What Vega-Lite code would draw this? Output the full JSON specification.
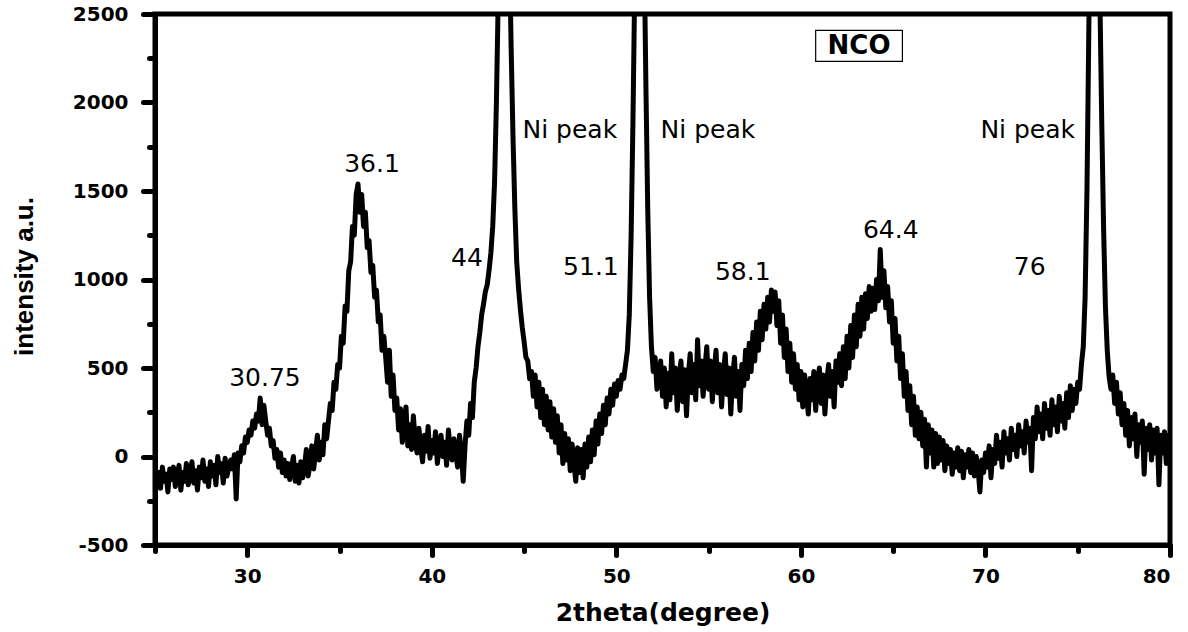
{
"$schema":"https://vega.github.io/schema/vega-lite/v6.json",
"width":1015,"height":531,
"autosize":"none",
"padding":{"left":155,"top":14,"right":18,"bottom":87},
"background":"white",
"config":{"view":{"stroke":"black","strokeWidth":5}},
"datasets":{
"xrd":[
{"t":25.0,"i":-40},{"t":25.1,"i":-150},{"t":25.2,"i":-90},{"t":25.3,"i":-180},{"t":25.4,"i":-60},{"t":25.5,"i":-140},{"t":25.6,"i":-100},{"t":25.7,"i":-200},{"t":25.8,"i":-70},{"t":25.9,"i":-130},
{"t":26.0,"i":-60},{"t":26.1,"i":-170},{"t":26.2,"i":-110},{"t":26.3,"i":-50},{"t":26.4,"i":-190},{"t":26.5,"i":-90},{"t":26.6,"i":-140},{"t":26.7,"i":-40},{"t":26.8,"i":-160},{"t":26.9,"i":-100},
{"t":27.0,"i":-30},{"t":27.1,"i":-150},{"t":27.2,"i":-80},{"t":27.3,"i":-190},{"t":27.4,"i":-60},{"t":27.5,"i":-120},{"t":27.6,"i":-20},{"t":27.7,"i":-140},{"t":27.8,"i":-70},{"t":27.9,"i":-170},
{"t":28.0,"i":-30},{"t":28.1,"i":-110},{"t":28.2,"i":-50},{"t":28.3,"i":-160},{"t":28.4,"i":0},{"t":28.5,"i":-90},{"t":28.6,"i":-40},{"t":28.7,"i":-150},{"t":28.8,"i":-10},{"t":28.9,"i":-110},
{"t":29.0,"i":-60},{"t":29.1,"i":-20},{"t":29.2,"i":-70},{"t":29.3,"i":10},{"t":29.4,"i":-240},{"t":29.5,"i":20},{"t":29.6,"i":-30},{"t":29.7,"i":60},{"t":29.8,"i":20},{"t":29.9,"i":110},
{"t":30.0,"i":80},{"t":30.1,"i":150},{"t":30.2,"i":120},{"t":30.3,"i":200},{"t":30.4,"i":160},{"t":30.5,"i":240},{"t":30.6,"i":200},{"t":30.7,"i":330},{"t":30.8,"i":180},{"t":30.9,"i":290},
{"t":31.0,"i":200},{"t":31.1,"i":120},{"t":31.2,"i":160},{"t":31.3,"i":60},{"t":31.4,"i":90},{"t":31.5,"i":-10},{"t":31.6,"i":40},{"t":31.7,"i":-60},{"t":31.8,"i":20},{"t":31.9,"i":-90},
{"t":32.0,"i":-20},{"t":32.1,"i":-110},{"t":32.2,"i":-40},{"t":32.3,"i":-130},{"t":32.4,"i":-60},{"t":32.5,"i":0},{"t":32.6,"i":-140},{"t":32.7,"i":-50},{"t":32.8,"i":-150},{"t":32.9,"i":-30},
{"t":33.0,"i":-120},{"t":33.1,"i":-60},{"t":33.2,"i":40},{"t":33.3,"i":-110},{"t":33.4,"i":-40},{"t":33.5,"i":60},{"t":33.6,"i":-70},{"t":33.7,"i":30},{"t":33.8,"i":120},{"t":33.9,"i":-20},
{"t":34.0,"i":80},{"t":34.1,"i":10},{"t":34.2,"i":180},{"t":34.3,"i":100},{"t":34.4,"i":200},{"t":34.5,"i":300},{"t":34.6,"i":260},{"t":34.7,"i":420},{"t":34.8,"i":380},{"t":34.9,"i":520},
{"t":35.0,"i":500},{"t":35.1,"i":680},{"t":35.2,"i":640},{"t":35.3,"i":850},{"t":35.4,"i":820},{"t":35.5,"i":1050},{"t":35.6,"i":1100},{"t":35.7,"i":1300},{"t":35.8,"i":1250},{"t":35.9,"i":1480},
{"t":36.0,"i":1540},{"t":36.1,"i":1380},{"t":36.2,"i":1480},{"t":36.3,"i":1300},{"t":36.4,"i":1380},{"t":36.5,"i":1180},{"t":36.6,"i":1220},{"t":36.7,"i":1040},{"t":36.8,"i":1080},{"t":36.9,"i":900},
{"t":37.0,"i":940},{"t":37.1,"i":760},{"t":37.2,"i":800},{"t":37.3,"i":600},{"t":37.4,"i":680},{"t":37.5,"i":560},{"t":37.6,"i":420},{"t":37.7,"i":600},{"t":37.8,"i":340},{"t":37.9,"i":460},
{"t":38.0,"i":260},{"t":38.1,"i":330},{"t":38.2,"i":150},{"t":38.3,"i":270},{"t":38.4,"i":80},{"t":38.5,"i":200},{"t":38.6,"i":280},{"t":38.7,"i":60},{"t":38.8,"i":180},{"t":38.9,"i":40},
{"t":39.0,"i":230},{"t":39.1,"i":90},{"t":39.2,"i":20},{"t":39.3,"i":160},{"t":39.4,"i":50},{"t":39.5,"i":-30},{"t":39.6,"i":120},{"t":39.7,"i":30},{"t":39.8,"i":170},{"t":39.9,"i":-10},
{"t":40.0,"i":90},{"t":40.1,"i":20},{"t":40.2,"i":140},{"t":40.3,"i":-40},{"t":40.4,"i":60},{"t":40.5,"i":120},{"t":40.6,"i":0},{"t":40.7,"i":80},{"t":40.8,"i":-50},{"t":40.9,"i":150},
{"t":41.0,"i":40},{"t":41.1,"i":-20},{"t":41.2,"i":100},{"t":41.3,"i":10},{"t":41.4,"i":-60},{"t":41.5,"i":120},{"t":41.6,"i":30},{"t":41.7,"i":-140},{"t":41.8,"i":60},{"t":41.9,"i":200},
{"t":42.0,"i":120},{"t":42.1,"i":300},{"t":42.2,"i":220},{"t":42.3,"i":420},{"t":42.4,"i":500},{"t":42.5,"i":620},{"t":42.6,"i":700},{"t":42.7,"i":800},{"t":42.8,"i":860},{"t":42.9,"i":930},
{"t":43.0,"i":970},{"t":43.1,"i":1050},{"t":43.2,"i":1150},{"t":43.3,"i":1300},{"t":43.4,"i":1550},{"t":43.5,"i":2000},{"t":43.6,"i":2600},{"t":43.7,"i":3300},{"t":43.8,"i":3800},{"t":43.9,"i":4000},
{"t":44.0,"i":3900},{"t":44.1,"i":3500},{"t":44.2,"i":2900},{"t":44.3,"i":2300},{"t":44.4,"i":1800},{"t":44.5,"i":1400},{"t":44.6,"i":1100},{"t":44.7,"i":950},{"t":44.8,"i":830},{"t":44.9,"i":730},
{"t":45.0,"i":650},{"t":45.1,"i":560},{"t":45.2,"i":540},{"t":45.3,"i":440},{"t":45.4,"i":480},{"t":45.5,"i":340},{"t":45.6,"i":460},{"t":45.7,"i":280},{"t":45.8,"i":420},{"t":45.9,"i":220},
{"t":46.0,"i":380},{"t":46.1,"i":180},{"t":46.2,"i":340},{"t":46.3,"i":150},{"t":46.4,"i":310},{"t":46.5,"i":110},{"t":46.6,"i":270},{"t":46.7,"i":80},{"t":46.8,"i":230},{"t":46.9,"i":20},
{"t":47.0,"i":180},{"t":47.1,"i":-40},{"t":47.2,"i":130},{"t":47.3,"i":-20},{"t":47.4,"i":100},{"t":47.5,"i":-80},{"t":47.6,"i":70},{"t":47.7,"i":-40},{"t":47.8,"i":-140},{"t":47.9,"i":50},
{"t":48.0,"i":-90},{"t":48.1,"i":40},{"t":48.2,"i":-120},{"t":48.3,"i":70},{"t":48.4,"i":-60},{"t":48.5,"i":110},{"t":48.6,"i":-30},{"t":48.7,"i":150},{"t":48.8,"i":10},{"t":48.9,"i":200},
{"t":49.0,"i":70},{"t":49.1,"i":240},{"t":49.2,"i":130},{"t":49.3,"i":290},{"t":49.4,"i":180},{"t":49.5,"i":330},{"t":49.6,"i":240},{"t":49.7,"i":380},{"t":49.8,"i":290},{"t":49.9,"i":410},
{"t":50.0,"i":340},{"t":50.1,"i":430},{"t":50.2,"i":380},{"t":50.3,"i":460},{"t":50.4,"i":440},{"t":50.5,"i":520},{"t":50.6,"i":600},{"t":50.7,"i":800},{"t":50.8,"i":1250},{"t":50.9,"i":1900},
{"t":51.0,"i":2700},{"t":51.1,"i":3500},{"t":51.2,"i":4000},{"t":51.3,"i":4000},{"t":51.4,"i":3600},{"t":51.5,"i":2900},{"t":51.6,"i":2100},{"t":51.7,"i":1400},{"t":51.8,"i":900},{"t":51.9,"i":620},
{"t":52.0,"i":480},{"t":52.1,"i":560},{"t":52.2,"i":380},{"t":52.3,"i":420},{"t":52.4,"i":540},{"t":52.5,"i":340},{"t":52.6,"i":500},{"t":52.7,"i":280},{"t":52.8,"i":470},{"t":52.9,"i":320},
{"t":53.0,"i":580},{"t":53.1,"i":360},{"t":53.2,"i":500},{"t":53.3,"i":260},{"t":53.4,"i":440},{"t":53.5,"i":540},{"t":53.6,"i":310},{"t":53.7,"i":490},{"t":53.8,"i":230},{"t":53.9,"i":460},
{"t":54.0,"i":580},{"t":54.1,"i":360},{"t":54.2,"i":520},{"t":54.3,"i":320},{"t":54.4,"i":660},{"t":54.5,"i":400},{"t":54.6,"i":540},{"t":54.7,"i":340},{"t":54.8,"i":500},{"t":54.9,"i":620},
{"t":55.0,"i":380},{"t":55.1,"i":540},{"t":55.2,"i":310},{"t":55.3,"i":480},{"t":55.4,"i":600},{"t":55.5,"i":360},{"t":55.6,"i":520},{"t":55.7,"i":280},{"t":55.8,"i":470},{"t":55.9,"i":580},
{"t":56.0,"i":350},{"t":56.1,"i":500},{"t":56.2,"i":240},{"t":56.3,"i":450},{"t":56.4,"i":560},{"t":56.5,"i":340},{"t":56.6,"i":480},{"t":56.7,"i":260},{"t":56.8,"i":520},{"t":56.9,"i":400},
{"t":57.0,"i":600},{"t":57.1,"i":440},{"t":57.2,"i":640},{"t":57.3,"i":480},{"t":57.4,"i":700},{"t":57.5,"i":540},{"t":57.6,"i":760},{"t":57.7,"i":600},{"t":57.8,"i":820},{"t":57.9,"i":660},
{"t":58.0,"i":860},{"t":58.1,"i":720},{"t":58.2,"i":900},{"t":58.3,"i":760},{"t":58.4,"i":940},{"t":58.5,"i":820},{"t":58.6,"i":930},{"t":58.7,"i":740},{"t":58.8,"i":880},{"t":58.9,"i":640},
{"t":59.0,"i":800},{"t":59.1,"i":560},{"t":59.2,"i":720},{"t":59.3,"i":480},{"t":59.4,"i":640},{"t":59.5,"i":420},{"t":59.6,"i":580},{"t":59.7,"i":380},{"t":59.8,"i":520},{"t":59.9,"i":320},
{"t":60.0,"i":480},{"t":60.1,"i":280},{"t":60.2,"i":460},{"t":60.3,"i":360},{"t":60.4,"i":240},{"t":60.5,"i":440},{"t":60.6,"i":320},{"t":60.7,"i":480},{"t":60.8,"i":260},{"t":60.9,"i":420},
{"t":61.0,"i":500},{"t":61.1,"i":300},{"t":61.2,"i":460},{"t":61.3,"i":240},{"t":61.4,"i":420},{"t":61.5,"i":520},{"t":61.6,"i":340},{"t":61.7,"i":480},{"t":61.8,"i":280},{"t":61.9,"i":540},
{"t":62.0,"i":420},{"t":62.1,"i":580},{"t":62.2,"i":400},{"t":62.3,"i":620},{"t":62.4,"i":440},{"t":62.5,"i":680},{"t":62.6,"i":500},{"t":62.7,"i":740},{"t":62.8,"i":560},{"t":62.9,"i":800},
{"t":63.0,"i":620},{"t":63.1,"i":860},{"t":63.2,"i":680},{"t":63.3,"i":900},{"t":63.4,"i":720},{"t":63.5,"i":920},{"t":63.6,"i":780},{"t":63.7,"i":960},{"t":63.8,"i":820},{"t":63.9,"i":950},
{"t":64.0,"i":830},{"t":64.1,"i":1000},{"t":64.2,"i":880},{"t":64.3,"i":1170},{"t":64.4,"i":900},{"t":64.5,"i":1050},{"t":64.6,"i":840},{"t":64.7,"i":960},{"t":64.8,"i":760},{"t":64.9,"i":880},
{"t":65.0,"i":640},{"t":65.1,"i":780},{"t":65.2,"i":540},{"t":65.3,"i":680},{"t":65.4,"i":440},{"t":65.5,"i":580},{"t":65.6,"i":340},{"t":65.7,"i":480},{"t":65.8,"i":260},{"t":65.9,"i":400},
{"t":66.0,"i":180},{"t":66.1,"i":340},{"t":66.2,"i":120},{"t":66.3,"i":280},{"t":66.4,"i":100},{"t":66.5,"i":250},{"t":66.6,"i":60},{"t":66.7,"i":210},{"t":66.8,"i":-60},{"t":66.9,"i":180},
{"t":67.0,"i":20},{"t":67.1,"i":150},{"t":67.2,"i":-60},{"t":67.3,"i":130},{"t":67.4,"i":-40},{"t":67.5,"i":110},{"t":67.6,"i":-20},{"t":67.7,"i":90},{"t":67.8,"i":-80},{"t":67.9,"i":60},
{"t":68.0,"i":-40},{"t":68.1,"i":40},{"t":68.2,"i":-100},{"t":68.3,"i":20},{"t":68.4,"i":-60},{"t":68.5,"i":50},{"t":68.6,"i":-80},{"t":68.7,"i":30},{"t":68.8,"i":-120},{"t":68.9,"i":10},
{"t":69.0,"i":-60},{"t":69.1,"i":40},{"t":69.2,"i":-90},{"t":69.3,"i":20},{"t":69.4,"i":-110},{"t":69.5,"i":0},{"t":69.6,"i":-70},{"t":69.7,"i":-200},{"t":69.8,"i":-20},{"t":69.9,"i":-90},
{"t":70.0,"i":20},{"t":70.1,"i":-60},{"t":70.2,"i":60},{"t":70.3,"i":-120},{"t":70.4,"i":40},{"t":70.5,"i":-40},{"t":70.6,"i":120},{"t":70.7,"i":-10},{"t":70.8,"i":80},{"t":70.9,"i":-60},
{"t":71.0,"i":140},{"t":71.1,"i":20},{"t":71.2,"i":100},{"t":71.3,"i":-20},{"t":71.4,"i":160},{"t":71.5,"i":40},{"t":71.6,"i":120},{"t":71.7,"i":0},{"t":71.8,"i":180},{"t":71.9,"i":60},
{"t":72.0,"i":140},{"t":72.1,"i":20},{"t":72.2,"i":200},{"t":72.3,"i":80},{"t":72.4,"i":160},{"t":72.5,"i":-80},{"t":72.6,"i":220},{"t":72.7,"i":100},{"t":72.8,"i":280},{"t":72.9,"i":140},
{"t":73.0,"i":240},{"t":73.1,"i":100},{"t":73.2,"i":300},{"t":73.3,"i":160},{"t":73.4,"i":260},{"t":73.5,"i":120},{"t":73.6,"i":320},{"t":73.7,"i":180},{"t":73.8,"i":280},{"t":73.9,"i":140},
{"t":74.0,"i":340},{"t":74.1,"i":200},{"t":74.2,"i":300},{"t":74.3,"i":160},{"t":74.4,"i":360},{"t":74.5,"i":220},{"t":74.6,"i":400},{"t":74.7,"i":260},{"t":74.8,"i":380},{"t":74.9,"i":300},
{"t":75.0,"i":420},{"t":75.1,"i":380},{"t":75.2,"i":520},{"t":75.3,"i":620},{"t":75.4,"i":900},{"t":75.5,"i":1500},{"t":75.6,"i":2400},{"t":75.7,"i":3300},{"t":75.8,"i":4000},{"t":75.9,"i":4100},
{"t":76.0,"i":3800},{"t":76.1,"i":3200},{"t":76.2,"i":2600},{"t":76.3,"i":1900},{"t":76.4,"i":1300},{"t":76.5,"i":850},{"t":76.6,"i":600},{"t":76.7,"i":450},{"t":76.8,"i":380},{"t":76.9,"i":460},
{"t":77.0,"i":300},{"t":77.1,"i":420},{"t":77.2,"i":240},{"t":77.3,"i":360},{"t":77.4,"i":180},{"t":77.5,"i":300},{"t":77.6,"i":120},{"t":77.7,"i":260},{"t":77.8,"i":60},{"t":77.9,"i":220},
{"t":78.0,"i":100},{"t":78.1,"i":240},{"t":78.2,"i":0},{"t":78.3,"i":180},{"t":78.4,"i":80},{"t":78.5,"i":200},{"t":78.6,"i":-100},{"t":78.7,"i":160},{"t":78.8,"i":40},{"t":78.9,"i":180},
{"t":79.0,"i":-20},{"t":79.1,"i":150},{"t":79.2,"i":20},{"t":79.3,"i":160},{"t":79.4,"i":-160},{"t":79.5,"i":120},{"t":79.6,"i":20},{"t":79.7,"i":140},{"t":79.8,"i":-40},{"t":79.9,"i":120},
{"t":80.0,"i":60}
],
"labels":[
{"t":30.96,"i":446,"label":"30.75"},{"t":36.76,"i":1650,"label":"36.1"},{"t":41.9,"i":1124,"label":"44"},{"t":47.48,"i":1842,"label":"Ni peak"},{"t":48.62,"i":1073,"label":"51.1"},{"t":54.96,"i":1842,"label":"Ni peak"},{"t":56.85,"i":1040,"label":"58.1"},{"t":64.87,"i":1282,"label":"64.4"},{"t":72.4,"i":1073,"label":"76"},{"t":72.29,"i":1842,"label":"Ni peak"}
],
"box":[{"t":60.8,"t2":65.5,"i":2407,"i2":2232}],
"tag":[{"t":63.15,"i":2322,"label":"NCO"}]
},
"layer":[
{"data":{"name":"xrd"},
 "mark":{"type":"line","color":"black","strokeWidth":5,"clip":true,"strokeJoin":"round"},
 "encoding":{
  "x":{"field":"t","type":"quantitative","scale":{"domain":[25,80],"nice":false,"zero":false},
   "axis":{"title":"2theta(degree)","values":[25,30,35,40,45,50,55,60,65,70,75,80],
    "labelExpr":"datum.value % 10 === 0 ? '' + datum.value : ''",
    "grid":false,"domainColor":"black","domainWidth":5,"tickColor":"black","tickWidth":5,"tickCap":"round",
    "tickSize":{"condition":{"test":"datum.value % 10 === 0","value":10},"value":6},
    "labelFont":"DejaVu Sans","labelFontWeight":"bold","labelFontSize":20,"labelColor":"black","labelPadding":11,
    "titleFont":"DejaVu Sans","titleFontWeight":"bold","titleFontSize":25,"titleColor":"black",
    "titleX":507.5,"titleY":67,"titleBaseline":"middle","titleAlign":"center"}},
  "y":{"field":"i","type":"quantitative","scale":{"domain":[-500,2500],"nice":false,"zero":false},
   "axis":{"title":"intensity a.u.","values":[-500,-250,0,250,500,750,1000,1250,1500,1750,2000,2250,2500],
    "labelExpr":"datum.value % 500 === 0 ? '' + datum.value : ''",
    "grid":false,"domainColor":"black","domainWidth":5,"tickColor":"black","tickWidth":5,"tickCap":"round",
    "tickSize":{"condition":{"test":"datum.value % 500 === 0","value":12},"value":6},
    "labelFont":"DejaVu Sans","labelFontWeight":"bold","labelFontSize":20,"labelColor":"black","labelPadding":15,
    "titleFont":"Liberation Sans Narrow, Liberation Sans, sans-serif","titleFontWeight":"bold","titleFontSize":26,"titleColor":"black",
    "titleX":-131,"titleY":262,"titleAngle":-90,"titleBaseline":"middle","titleAlign":"center"}}
 }},
{"data":{"name":"box"},
 "mark":{"type":"rect","fill":"white","stroke":"black","strokeWidth":1.2},
 "encoding":{"x":{"field":"t","type":"quantitative"},"x2":{"field":"t2"},"y":{"field":"i","type":"quantitative"},"y2":{"field":"i2"}}},
{"data":{"name":"tag"},
 "mark":{"type":"text","font":"DejaVu Sans","fontWeight":"bold","fontSize":26,"color":"black","align":"center","baseline":"middle"},
 "encoding":{"x":{"field":"t","type":"quantitative"},"y":{"field":"i","type":"quantitative"},"text":{"field":"label"}}},
{"data":{"name":"labels"},
 "mark":{"type":"text","font":"DejaVu Sans","fontSize":25,"color":"black","align":"center","baseline":"middle"},
 "encoding":{"x":{"field":"t","type":"quantitative"},"y":{"field":"i","type":"quantitative"},"text":{"field":"label"}}}
]
}
